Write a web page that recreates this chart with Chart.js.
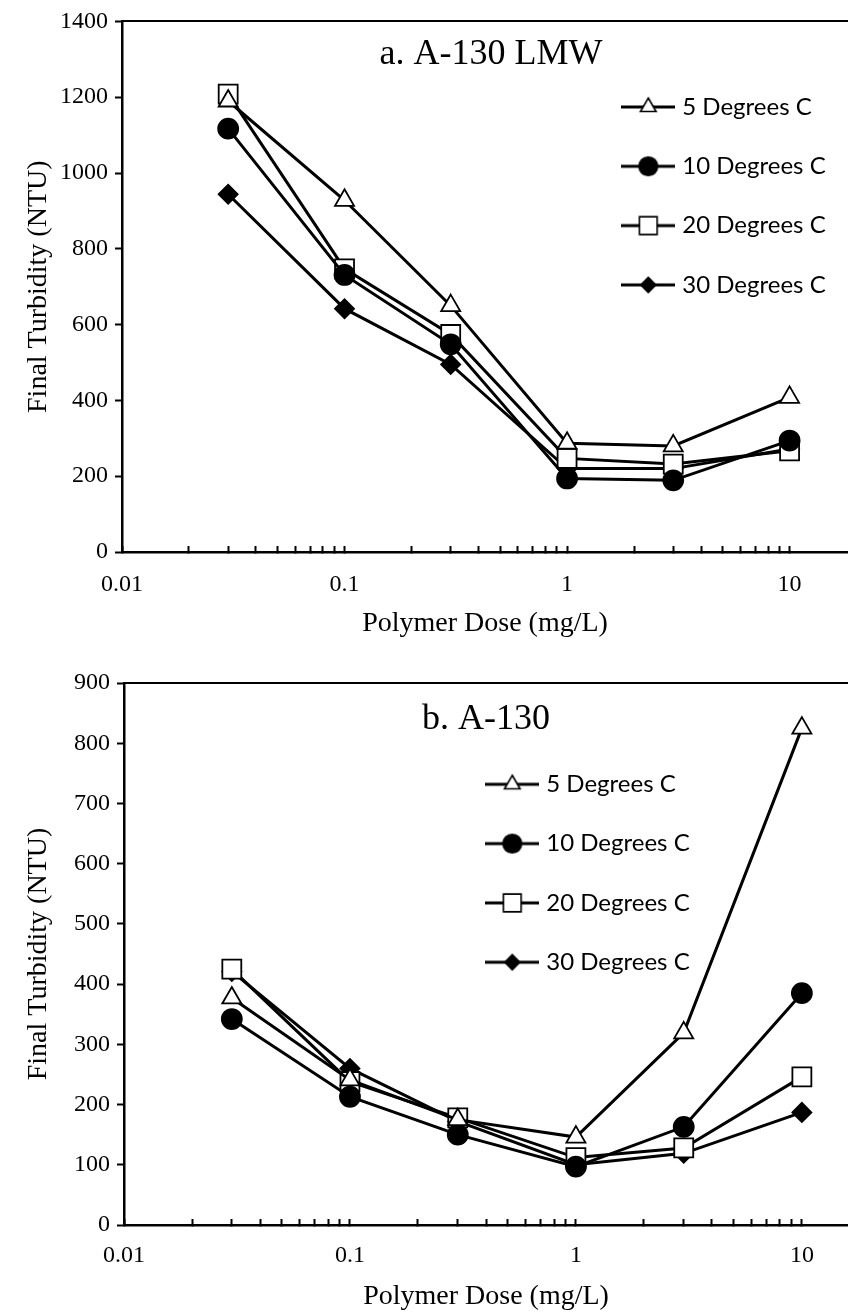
<!DOCTYPE html>
<html>
<head>
<meta charset="utf-8">
<script src="https://cdn.jsdelivr.net/npm/chart.js@4.4.1/dist/chart.umd.min.js"></script>
<style>
html,body{margin:0;padding:0;background:#fff;}
#wrapA{position:absolute;left:0;top:0;width:848px;height:660px;}
#wrapB{position:absolute;left:0;top:660px;width:848px;height:655px;}
</style>
</head>
<body>
<div id="wrapA"><canvas id="chartA"></canvas></div>
<div id="wrapB"><canvas id="chartB"></canvas></div>
<script>
// ---------- data ----------
const doses = [0.03, 0.1, 0.3, 1, 3, 10];
const seriesNames = ['5 Degrees C', '10 Degrees C', '20 Degrees C', '30 Degrees C'];

// a. A-130 LMW
const lmw5C  = [1190, 928, 650, 287, 280, 408];
const lmw10C = [1117, 731, 548, 194, 189, 294];
const lmw20C = [1208, 747, 574, 247, 232, 267];
const lmw30C = [944, 642, 495, 220, 220, 272];

// b. A-130
const std5C  = [377, 241, 175, 146, 319, 825];
const std10C = [342, 213, 150, 97, 163, 385];
const std20C = [425, 238, 178, 112, 128, 246];
const std30C = [421, 260, 172, 100, 119, 187];

const titleA = 'a. A-130 LMW';
const titleB = 'b. A-130';
const xTitle = 'Polymer Dose (mg/L)';
const yTitle = 'Final Turbidity (NTU)';

const xMajorTicks = [0.01, 0.1, 1, 10];
const xMajorLabels = ['0.01', '0.1', '1', '10'];
const xMinorTicks = [0.02, 0.03, 0.04, 0.05, 0.06, 0.07, 0.08, 0.09,
                     0.2, 0.3, 0.4, 0.5, 0.6, 0.7, 0.8, 0.9,
                     2, 3, 4, 5, 6, 7, 8, 9];
const yTicksA = [0, 200, 400, 600, 800, 1000, 1200, 1400];
const yTicksB = [0, 100, 200, 300, 400, 500, 600, 700, 800, 900];

// ---------- styles ----------
const markerStyles = ['triangle', 'circle', 'rect', 'rectRot'];
const markerFilled = [false, true, false, true];
const markerRadius = [11, 10, 13.4, 9.5];
const legendRadius = [9, 9.3, 12.5, 7.5];

function legendSymbol(i) {
  const c = document.createElement('canvas');
  c.width = 54; c.height = 24;
  const ctx = c.getContext('2d');
  ctx.strokeStyle = '#000';
  ctx.lineWidth = 3;
  ctx.beginPath(); ctx.moveTo(0, 12); ctx.lineTo(54, 12); ctx.stroke();
  ctx.fillStyle = markerFilled[i] ? '#000' : '#fff';
  ctx.lineWidth = 1.6;
  Chart.helpers.drawPoint(ctx, {pointStyle: markerStyles[i], radius: legendRadius[i], rotation: 0, borderWidth: 1.6}, 27, 12);
  return c;
}

const placePlugin = {
  id: 'place',
  afterLayout(chart, args, opts) {
    const lg = chart.legend;
    if (lg && opts.legendX != null) {
      lg.left = opts.legendX; lg.top = opts.legendY;
      lg.right = lg.left + 400; lg.bottom = lg.top + 400;
      lg.width = 400; lg.height = 400;
    }
    const t = chart.titleBlock;
    if (t && opts.titleX != null) {
      const lh = opts.titleLH;
      t.left = opts.titleX - 300; t.right = opts.titleX + 300; t.width = 600;
      t.top = opts.titleY - lh / 2; t.bottom = t.top; t.height = 0;
    }
  }
};

function makeDatasets(arrs) {
  return arrs.map((vals, i) => ({
    label: seriesNames[i],
    data: doses.map((x, j) => ({x: x, y: vals[j]})),
    borderColor: '#000',
    backgroundColor: '#000',
    borderWidth: 3,
    pointStyle: markerStyles[i],
    pointRadius: markerRadius[i],
    pointHoverRadius: markerRadius[i],
    pointBackgroundColor: markerFilled[i] ? '#000' : '#fff',
    pointBorderColor: '#000',
    pointBorderWidth: 1.8,
    fill: false,
    tension: 0
  }));
}

const serif = 'Liberation Serif';

function noSidePad(scale) {
  scale.paddingLeft = 0;
  scale.paddingRight = 0;
}

function makeChart(id, cfg) {
  const symbols = [0, 1, 2, 3].map(legendSymbol);
  const titleSize = 36, titleLH = titleSize * 1.2;
  return new Chart(document.getElementById(id), {
    type: 'line',
    data: {datasets: makeDatasets(cfg.series)},
    plugins: [placePlugin],
    options: {
      responsive: true,
      maintainAspectRatio: false,
      animation: false,
      events: [],
      layout: {autoPadding: false, padding: {top: cfg.padTop, left: 0, right: 0, bottom: 0}},
      plugins: {
        tooltip: {enabled: false},
        title: {
          display: true,
          text: cfg.title,
          color: '#000',
          font: {family: serif, size: titleSize, weight: 'normal', lineHeight: 1.2},
          padding: {top: 0, bottom: -titleLH}
        },
        legend: {
          position: 'chartArea',
          align: 'start',
          labels: {
            usePointStyle: true,
            pointStyleWidth: 44,
            padding: 35.3,
            color: '#000',
            font: {family: 'Lato', size: 24},
            generateLabels(chart) {
              const items = Chart.defaults.plugins.legend.labels.generateLabels(chart);
              items.forEach((it) => { it.pointStyle = symbols[it.datasetIndex]; it.rotation = 0; });
              return items;
            }
          }
        },
        place: {
          legendX: cfg.legendX, legendY: cfg.legendY,
          titleX: cfg.titleX, titleY: cfg.titleY, titleLH: titleLH
        }
      },
      scales: {
        x: {
          type: 'logarithmic',
          position: 'bottom',
          min: 0.01,
          max: cfg.xMax,
          afterBuildTicks(scale) {
            scale.ticks = xMajorTicks.concat(xMinorTicks).sort((a, b) => a - b).map(v => ({value: v}));
          },
          afterFit(scale) { scale.height = cfg.xAxisH; noSidePad(scale); },
          ticks: {
            autoSkip: false,
            maxRotation: 0,
            minRotation: 0,
            padding: cfg.xTickPad,
            color: '#000',
            font: {family: serif, size: 24},
            callback(value) {
              const k = xMajorTicks.findIndex(t => Math.abs(t - value) / t < 1e-6);
              return k >= 0 ? xMajorLabels[k] : '';
            }
          },
          grid: {
            display: true,
            drawOnChartArea: false,
            drawTicks: true,
            tickLength: -6,
            tickWidth: 2,
            tickColor: '#000'
          },
          border: {display: true, color: '#000', width: 2.5},
          title: {
            display: true,
            text: xTitle,
            color: '#000',
            font: {family: serif, size: 28, lineHeight: 1.2},
            padding: {top: 0, bottom: cfg.xTitlePad}
          }
        },
        xTop: {
          type: 'linear',
          position: 'top',
          min: 0, max: 1,
          ticks: {display: false},
          grid: {display: false, drawTicks: false},
          border: {display: true, color: '#000', width: 2},
          afterFit(scale) { scale.height = 0; noSidePad(scale); }
        },
        y: {
          type: 'linear',
          position: 'left',
          min: 0,
          max: cfg.yTicks[cfg.yTicks.length - 1],
          afterBuildTicks(scale) {
            scale.ticks = cfg.yTicks.map(v => ({value: v}));
          },
          afterFit(scale) { scale.width = cfg.yAxisW; },
          ticks: {
            padding: 7,
            color: '#000',
            font: {family: serif, size: 24},
            callback(value) { return String(value); }
          },
          grid: {
            display: true,
            drawOnChartArea: false,
            drawTicks: true,
            tickLength: 7,
            tickWidth: 2,
            tickColor: '#000'
          },
          border: {display: true, color: '#000', width: 2.5},
          title: {
            display: true,
            text: yTitle,
            color: '#000',
            font: {family: serif, size: 28, lineHeight: 1.2},
            padding: {top: 22, bottom: 0}
          }
        }
      }
    }
  });
}

makeChart('chartA', {
  series: [lmw5C, lmw10C, lmw20C, lmw30C],
  title: titleA,
  padTop: 18,
  xMax: 18.3,
  xAxisH: 108,
  xTickPad: 24,
  xTitlePad: 20,
  yAxisW: 122,
  yTicks: yTicksA,
  legendX: 591, legendY: 59.7,
  titleX: 491, titleY: 55
});

makeChart('chartB', {
  series: [std5C, std10C, std20C, std30C],
  title: titleB,
  padTop: 23,
  xMax: 16.0,
  xAxisH: 90,
  xTickPad: 22.5,
  xTitlePad: 2,
  yAxisW: 124,
  yTicks: yTicksB,
  legendX: 455, legendY: 77,
  titleX: 486, titleY: 60
});
</script>
</body>
</html>
